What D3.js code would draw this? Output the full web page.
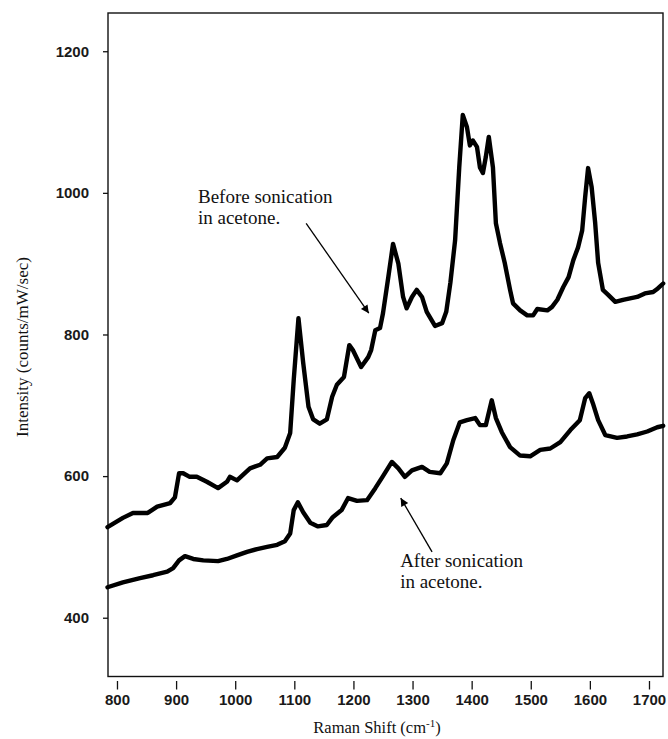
<!DOCTYPE html>
<html lang="en">
<head>
    <meta charset="UTF-8">
    <title>Raman Spectra</title>
    <script src="https://cdnjs.cloudflare.com/ajax/libs/d3/7.8.5/d3.min.js"></script>
    <style>
        body { margin: 0; background: #fff; }
        .tick text { font: bold 15px "Liberation Sans", Arial, sans-serif; fill: #1a1a1a; }
        .serif { font-family: "Liberation Serif", "Times New Roman", serif; fill: #111; }
        .spectrum { fill: none; stroke: #000; stroke-width: 4.4; stroke-linejoin: round; stroke-linecap: round; }
    </style>
</head>
<body>
<script>
    // spectrum before sonication (Raman shift in cm-1, intensity in counts/mW/sec)
    var beforeShift = [784, 810, 827, 852, 868, 890, 898, 905, 912, 923, 935, 952, 971, 986, 991, 1003,
        1025, 1042, 1054, 1071, 1084, 1093, 1099, 1107, 1115, 1124, 1132, 1143, 1155, 1164, 1172, 1184,
        1193, 1199, 1213, 1225, 1230, 1237, 1245, 1250, 1259, 1267, 1276, 1284, 1290, 1299, 1307, 1316,
        1324, 1338, 1350, 1357, 1364, 1372, 1379, 1385, 1392, 1397, 1402, 1409, 1414, 1419, 1424, 1429,
        1436, 1441, 1448, 1456, 1465, 1470, 1482, 1494, 1504, 1511, 1528, 1536, 1545, 1555, 1564, 1572,
        1580, 1587, 1592, 1597, 1603, 1609, 1614, 1622, 1631, 1643, 1656, 1668, 1680, 1693, 1707, 1715, 1724];
    var beforeIntensity = [528, 541, 548, 548, 557, 562, 570, 604, 604, 599, 599, 592, 583, 592, 599, 594,
        611, 616, 625, 627, 640, 661, 736, 823, 760, 698, 680, 674, 680, 712, 729, 740,
        785, 778, 754, 768, 778, 806, 809, 830, 881, 928, 900, 853, 837, 853, 863, 853,
        832, 812, 816, 832, 873, 933, 1036, 1110, 1093, 1067, 1074, 1065, 1036, 1028, 1051, 1079,
        1036, 957, 929, 901, 863, 844, 834, 827, 827, 836, 834, 839, 849, 867, 881, 905,
        923, 947, 994, 1035, 1008, 957, 901, 863, 856, 846, 849, 851, 853, 858, 860, 865, 872];

    // spectrum after sonication
    var afterShift = [784, 810, 839, 861, 885, 895, 905, 915, 929, 946, 971, 986, 1003, 1020, 1037, 1054,
        1071, 1084, 1093, 1099, 1106, 1115, 1127, 1140, 1155, 1165, 1180, 1191, 1206, 1223, 1237, 1250,
        1265, 1276, 1287, 1299, 1316, 1329, 1347, 1358, 1369, 1380, 1392, 1406, 1414, 1424, 1434, 1441,
        1451, 1465, 1482, 1499, 1516, 1533, 1550, 1567, 1583, 1592, 1599, 1605, 1614, 1626, 1646, 1663,
        1680, 1697, 1714, 1724];
    var afterIntensity = [443, 450, 456, 460, 465, 470, 481, 487, 483, 481, 480, 483, 488, 493, 497, 500,
        503, 508, 519, 552, 563, 549, 534, 529, 531, 542, 552, 569, 565, 566, 583, 600,
        620, 611, 599, 608, 613, 606, 604, 618, 651, 676, 679, 682, 672, 672, 707, 682,
        662, 641, 629, 628, 637, 639, 648, 665, 679, 710, 717, 703, 679, 658, 654, 656,
        659, 663, 669, 671];

    var xTicks = [800, 900, 1000, 1100, 1200, 1300, 1400, 1500, 1600, 1700];
    var yTicks = [400, 600, 800, 1000, 1200];

    var margin = {top: 13, right: 5, bottom: 62.5, left: 108},
        width = 668 - margin.left - margin.right,
        height = 739 - margin.top - margin.bottom;

    var x = d3.scaleLinear().domain([784.8, 1723.7]).range([0, width]);
    var y = d3.scaleLinear().domain([317, 1254]).range([height, 0]);

    var svg = d3.select("body").append("svg")
        .attr("width", 668)
        .attr("height", 739);

    var g = svg.append("g")
        .attr("transform", "translate(" + margin.left + "," + margin.top + ")");

    // arrow head
    svg.append("defs").append("marker")
        .attr("id", "head")
        .attr("viewBox", "0 0 10 10")
        .attr("refX", 10).attr("refY", 5)
        .attr("markerWidth", 12).attr("markerHeight", 8)
        .attr("markerUnits", "userSpaceOnUse")
        .attr("orient", "auto")
        .append("path").attr("d", "M0,0L10,5L0,10Z").attr("fill", "#000");

    // frame
    g.append("rect")
        .attr("width", width).attr("height", height)
        .attr("fill", "none").attr("stroke", "#111").attr("stroke-width", 1.4);

    // x axis, ticks sit a little below the frame
    var xAxis = g.append("g")
        .attr("transform", "translate(0," + height + ")")
        .call(d3.axisBottom(x).tickValues(xTicks).tickSizeOuter(0).tickSize(0).tickPadding(0).tickFormat(d3.format("d")));
    xAxis.select(".domain").remove();
    xAxis.selectAll(".tick line").attr("y1", 4.5).attr("y2", 13).attr("stroke", "#111").attr("stroke-width", 1.3);
    xAxis.selectAll(".tick text").attr("y", 18).attr("dy", "0.71em");

    // y axis
    var yAxis = g.append("g")
        .call(d3.axisLeft(y).tickValues(yTicks).tickSizeOuter(0).tickSize(5).tickPadding(14).tickFormat(d3.format("d")));
    yAxis.select(".domain").remove();
    yAxis.selectAll(".tick line").attr("stroke", "#111").attr("stroke-width", 1.3);

    // spectra
    var line = d3.line()
        .x(function(d) { return x(d[0]); })
        .y(function(d) { return y(d[1]); });

    g.append("path")
        .datum(d3.zip(beforeShift, beforeIntensity))
        .attr("class", "spectrum")
        .attr("d", line);

    g.append("path")
        .datum(d3.zip(afterShift, afterIntensity))
        .attr("class", "spectrum")
        .attr("d", line);

    // annotations
    function note(xv, yv, lines) {
        var t = g.append("text").attr("class", "serif")
            .attr("x", x(xv)).attr("y", y(yv))
            .style("font-size", "19px");
        lines.forEach(function(s, i) {
            t.append("tspan").attr("x", x(xv)).attr("dy", i === 0 ? 0 : 20.5).text(s);
        });
    }
    note(937, 985, ["Before sonication", "in acetone."]);
    note(1279, 471.6, ["After sonication", "in acetone."]);

    g.append("line")
        .attr("x1", x(1120)).attr("y1", y(957))
        .attr("x2", x(1226)).attr("y2", y(830))
        .attr("stroke", "#000").attr("stroke-width", 1.3)
        .attr("marker-end", "url(#head)");

    g.append("line")
        .attr("x1", x(1333)).attr("y1", y(493))
        .attr("x2", x(1280)).attr("y2", y(569))
        .attr("stroke", "#000").attr("stroke-width", 1.3)
        .attr("marker-end", "url(#head)");

    // axis titles
    svg.append("text").attr("class", "serif")
        .attr("transform", "translate(28,347) rotate(-90)")
        .attr("text-anchor", "middle")
        .style("font-size", "17px")
        .text("Intensity (counts/mW/sec)");

    var xt = svg.append("text").attr("class", "serif")
        .attr("x", 377).attr("y", 733)
        .attr("text-anchor", "middle")
        .style("font-size", "16.5px");
    xt.append("tspan").text("Raman Shift (cm");
    xt.append("tspan").attr("dy", -6).style("font-size", "11px").text("-1");
    xt.append("tspan").attr("dy", 6).text(")");
</script>
</body>
</html>
